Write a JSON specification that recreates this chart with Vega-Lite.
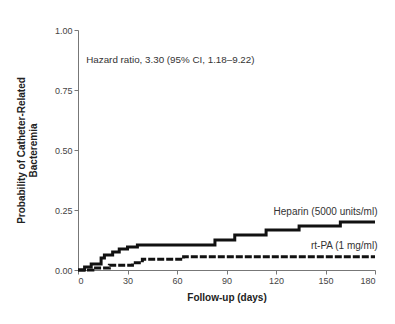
{
  "$schema": "https://vega.github.io/schema/vega-lite/v6.json",
  "width": 297,
  "height": 240,
  "autosize": {"type": "none"},
  "padding": {"left": 78, "top": 30, "right": 20, "bottom": 54},
  "background": "white",
  "config": {
    "view": {"stroke": null},
    "font": "Liberation Sans",
    "axis": {
      "grid": false,
      "domainColor": "#777",
      "tickColor": "#777",
      "tickSize": 4,
      "labelColor": "#444",
      "labelFont": "Liberation Sans",
      "labelFontSize": 9,
      "titleFont": "Liberation Sans",
      "titleFontSize": 10,
      "titleFontWeight": "bold",
      "titleColor": "#222"
    }
  },
  "datasets": {
    "curves": [
      {"group": "Heparin", "day": 0, "p": 0},
      {"group": "Heparin", "day": 4, "p": 0.013},
      {"group": "Heparin", "day": 8, "p": 0.025},
      {"group": "Heparin", "day": 14, "p": 0.05},
      {"group": "Heparin", "day": 16, "p": 0.0625},
      {"group": "Heparin", "day": 21, "p": 0.075},
      {"group": "Heparin", "day": 25, "p": 0.0875},
      {"group": "Heparin", "day": 30, "p": 0.096},
      {"group": "Heparin", "day": 36, "p": 0.104},
      {"group": "Heparin", "day": 83, "p": 0.125},
      {"group": "Heparin", "day": 95, "p": 0.146},
      {"group": "Heparin", "day": 114, "p": 0.167},
      {"group": "Heparin", "day": 134, "p": 0.183},
      {"group": "Heparin", "day": 159, "p": 0.2},
      {"group": "Heparin", "day": 180, "p": 0.2},
      {"group": "rt-PA", "day": 0, "p": 0},
      {"group": "rt-PA", "day": 9, "p": 0.008},
      {"group": "rt-PA", "day": 19, "p": 0.02},
      {"group": "rt-PA", "day": 33, "p": 0.03},
      {"group": "rt-PA", "day": 39, "p": 0.045},
      {"group": "rt-PA", "day": 64, "p": 0.055},
      {"group": "rt-PA", "day": 180, "p": 0.055}
    ],
    "labels": [
      {"text": "Heparin (5000 units/ml)", "day": 181.5, "p": 0.243},
      {"text": "rt-PA (1 mg/ml)", "day": 181.5, "p": 0.1}
    ],
    "note": [
      {"text": "Hazard ratio, 3.30 (95% CI, 1.18–9.22)", "day": 5, "p": 0.875}
    ]
  },
  "layer": [
    {
      "data": {"name": "curves"},
      "mark": {"type": "line", "interpolate": "step-after", "strokeWidth": 3, "color": "#111", "clip": false},
      "encoding": {
        "x": {
          "field": "day", "type": "quantitative",
          "scale": {"domain": [0, 180], "nice": false},
          "axis": {"values": [0, 30, 60, 90, 120, 150, 180], "title": "Follow-up (days)", "titlePadding": 7, "labelPadding": 2}
        },
        "y": {
          "field": "p", "type": "quantitative",
          "scale": {"domain": [0, 1], "nice": false},
          "axis": {"values": [0, 0.25, 0.5, 0.75, 1], "format": ".2f", "title": ["Probability of Catheter-Related", "Bacteremia"], "titlePadding": 16, "labelPadding": 2}
        },
        "strokeDash": {
          "field": "group", "type": "nominal",
          "scale": {"domain": ["Heparin", "rt-PA"], "range": [[1, 0], [7, 2]]},
          "legend": null
        }
      }
    },
    {
      "data": {"name": "labels"},
      "mark": {"type": "text", "align": "right", "baseline": "middle", "fontSize": 10, "color": "#333", "clip": false},
      "encoding": {
        "x": {"field": "day", "type": "quantitative"},
        "y": {"field": "p", "type": "quantitative"},
        "text": {"field": "text"}
      }
    },
    {
      "data": {"name": "note"},
      "mark": {"type": "text", "align": "left", "baseline": "middle", "fontSize": 9.8, "color": "#333"},
      "encoding": {
        "x": {"field": "day", "type": "quantitative"},
        "y": {"field": "p", "type": "quantitative"},
        "text": {"field": "text"}
      }
    }
  ]
}
